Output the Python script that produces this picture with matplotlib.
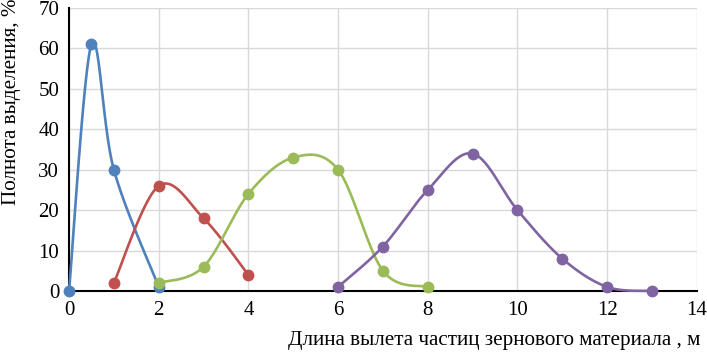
import matplotlib
matplotlib.use("Agg")
import matplotlib.pyplot as plt
import numpy as np

x_blue = [0, 0.5, 1, 2]
y_blue = [0, 61, 30, 1]
x_red = [1, 2, 3, 4]
y_red = [2, 26, 18, 4]
x_green = [2, 3, 4, 5, 6, 7, 8]
y_green = [2, 6, 24, 33, 30, 5, 1]
x_purple = [6, 7, 8, 9, 10, 11, 12, 13]
y_purple = [1, 11, 25, 34, 20, 8, 1, 0]

colors = ["#4F81BD", "#C0504D", "#9BBB59", "#8064A2"]


def smooth(xs, ys, n=40):
    # Excel-like smoothed line: cubic Bezier with Catmull-Rom control points
    p = np.column_stack([xs, ys]).astype(float)
    p = np.vstack([p[0], p, p[-1]])
    out = []
    for i in range(1, len(p) - 2):
        p0, p1, p2, p3 = p[i - 1], p[i], p[i + 1], p[i + 2]
        c1 = p1 + (p2 - p0) / 6
        c2 = p2 - (p3 - p1) / 6
        t = np.linspace(0, 1, n)[:, None]
        seg = ((1 - t) ** 3) * p1 + 3 * ((1 - t) ** 2) * t * c1 + 3 * (1 - t) * t ** 2 * c2 + t ** 3 * p2
        out.append(seg)
    out = np.vstack(out)
    return out[:, 0], out[:, 1]


plt.rcParams["font.family"] = ["Liberation Serif", "DejaVu Serif"]

fig = plt.figure(figsize=(7.07, 3.52), dpi=100)
ax = fig.add_axes([0.0976, 0.1733, 0.888, 0.804])

series = [(x_blue, y_blue), (x_red, y_red), (x_green, y_green), (x_purple, y_purple)]
for (xs, ys), c in zip(series, colors):
    sx, sy = smooth(xs, ys)
    ax.plot(sx, sy, color=c, lw=1.9, zorder=3, clip_on=False)
    ax.plot(xs, ys, "o", color=c, ms=7.5, zorder=4, clip_on=False)

ax.set_xlim(0, 14)
ax.set_ylim(0, 70)
ax.set_xticks(range(0, 15, 2))
ax.set_yticks(range(0, 71, 10))
ax.grid(True, color="#d9d9d9", lw=1)
ax.set_axisbelow(True)
for s in ["top", "right"]:
    ax.spines[s].set_visible(False)
ax.spines["left"].set_color("black")
ax.spines["bottom"].set_color("black")
ax.spines["left"].set_linewidth(1.5)
ax.spines["bottom"].set_linewidth(1.5)
ax.tick_params(length=0, labelsize=15, pad=7)

fig.text(0.699, 0.034, "Длина вылета частиц зернового материала , м",
         fontsize=15.2, ha="center", va="center")
fig.text(0.016, 0.71, "Полнота выделения, %", fontsize=15.2,
         rotation=90, ha="center", va="center")

fig.savefig("out.png", dpi=100)
